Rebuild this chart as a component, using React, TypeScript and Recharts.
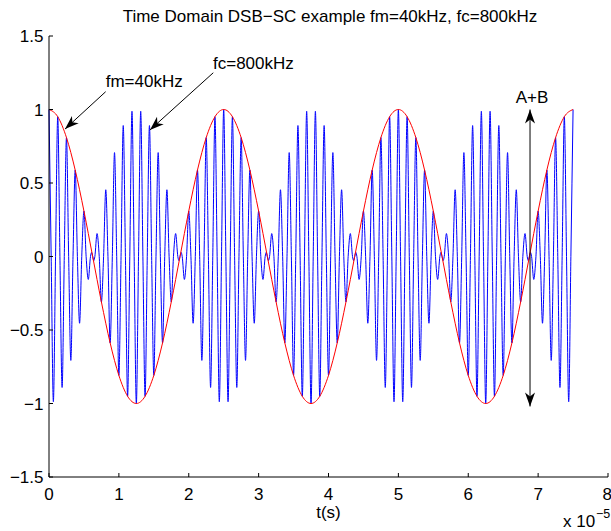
import React from 'react';
import { LineChart, Line, XAxis, YAxis, ReferenceLine, ReferenceDot } from 'recharts';

// time axis in units of 1e-5 s
const xTicks = [0, 1, 2, 3, 4, 5, 6, 7, 8];
const yTicks = [-1.5, -1, -0.5, 0, 0.5, 1, 1.5];

// DSB-SC signal: one extreme every half carrier period (0.0625 x 1e-5 s), zero between them
const halfPeriod = 0.0625;
const dsbPeaks = [
  1, -0.988, 0.951, -0.891, 0.809, -0.707, 0.588, -0.454, 0.309, -0.156,
  0, 0.156, -0.309, 0.454, -0.588, 0.707, -0.809, 0.891, -0.951, 0.988,
  -1, 0.988, -0.951, 0.891, -0.809, 0.707, -0.588, 0.454, -0.309, 0.156,
  0, -0.156, 0.309, -0.454, 0.588, -0.707, 0.809, -0.891, 0.951, -0.988,
  1, -0.988, 0.951, -0.891, 0.809, -0.707, 0.588, -0.454, 0.309, -0.156,
  0, 0.156, -0.309, 0.454, -0.588, 0.707, -0.809, 0.891, -0.951, 0.988,
  -1, 0.988, -0.951, 0.891, -0.809, 0.707, -0.588, 0.454, -0.309, 0.156,
  0, -0.156, 0.309, -0.454, 0.588, -0.707, 0.809, -0.891, 0.951, -0.988,
  1, -0.988, 0.951, -0.891, 0.809, -0.707, 0.588, -0.454, 0.309, -0.156,
  0, 0.156, -0.309, 0.454, -0.588, 0.707, -0.809, 0.891, -0.951, 0.988,
  -1, 0.988, -0.951, 0.891, -0.809, 0.707, -0.588, 0.454, -0.309, 0.156,
  0, -0.156, 0.309, -0.454, 0.588, -0.707, 0.809, -0.891, 0.951, -0.988,
  1,
];

// small wiggle of the signal around each zero of the envelope
const nullWiggles = [
  { t: 0.609, v: 0.028 }, { t: 0.641, v: -0.028 },
  { t: 1.859, v: -0.028 }, { t: 1.891, v: 0.028 },
  { t: 3.109, v: 0.028 }, { t: 3.141, v: -0.028 },
  { t: 4.359, v: -0.028 }, { t: 4.391, v: 0.028 },
  { t: 5.609, v: 0.028 }, { t: 5.641, v: -0.028 },
  { t: 6.859, v: -0.028 }, { t: 6.891, v: 0.028 },
];

// message envelope (fm=40kHz), sampled every 0.125 x 1e-5 s
const envStep = 0.125;
const envelope = [
  1, 0.951, 0.809, 0.588, 0.309, 0, -0.309, -0.588, -0.809, -0.951,
  -1, -0.951, -0.809, -0.588, -0.309, 0, 0.309, 0.588, 0.809, 0.951,
  1, 0.951, 0.809, 0.588, 0.309, 0, -0.309, -0.588, -0.809, -0.951,
  -1, -0.951, -0.809, -0.588, -0.309, 0, 0.309, 0.588, 0.809, 0.951,
  1, 0.951, 0.809, 0.588, 0.309, 0, -0.309, -0.588, -0.809, -0.951,
  -1, -0.951, -0.809, -0.588, -0.309, 0, 0.309, 0.588, 0.809, 0.951,
  1,
];

const dsbData: { t: number; v: number }[] = [...nullWiggles];
dsbPeaks.forEach((v, i) => {
  dsbData.push({ t: i * halfPeriod, v });
  if (i < dsbPeaks.length - 1) dsbData.push({ t: (i + 0.5) * halfPeriod, v: 0 });
});
dsbData.sort((a, b) => a.t - b.t);
const envData = envelope.map((v, i) => ({ t: i * envStep, v }));

// annotation arrows: [tail, tip]
const fmArrow = [{ x: 0.811, y: 1.121 }, { x: 0.229, y: 0.867 }];
const fcArrow = [{ x: 2.351, y: 1.25 }, { x: 1.445, y: 0.861 }];
const abArrow = [{ x: 6.884, y: -1.02 }, { x: 6.884, y: 1.0 }];

const FONT = '"Liberation Sans", Arial, Helvetica, sans-serif';

const head = (xt: number, yt: number, xf: number, yf: number) => {
  const a = Math.atan2(yt - yf, xt - xf);
  const L = 14, W = 5, N = 10;
  const c = Math.cos(a), s = Math.sin(a);
  const bx = xt - L * c, by = yt - L * s;
  const nx = xt - N * c, ny = yt - N * s;
  const px = -s * W, py = c * W;
  return (
    <polygon
      points={`${xt},${yt} ${bx + px},${by + py} ${nx},${ny} ${bx - px},${by - py}`}
      fill="#000"
    />
  );
};

const arrowShape = (both: boolean) => (p: any) => (
  <g>
    <line x1={p.x1} y1={p.y1} x2={p.x2} y2={p.y2} stroke="#000" strokeWidth={1} />
    {head(p.x2, p.y2, p.x1, p.y1)}
    {both && head(p.x1, p.y1, p.x2, p.y2)}
  </g>
);

const label = (text: string, anchor: string) => (p: any) => (
  <text x={p.cx} y={p.cy} fontSize={17} fontFamily={FONT} fill="#000" textAnchor={anchor}>
    {text}
  </text>
);

// x tick labels; the last one is pulled in so it stays inside the picture
const XTick = (p: any) => {
  const last = p.payload.value === xTicks[xTicks.length - 1];
  return (
    <text
      x={p.x}
      y={p.y}
      dy="0.71em"
      dx={last ? 4 : 0}
      textAnchor={last ? 'end' : 'middle'}
      fontSize={17}
      fontFamily={FONT}
      fill="#000"
    >
      {p.payload.value}
    </text>
  );
};

const minus = (v: number) => String(v).replace('-', '\u2212');

export default function App() {
  return (
    <div style={{ position: 'absolute', left: 0, top: 0, width: 611, height: 531, background: '#fff' }}>
      <LineChart width={611} height={531} margin={{ top: 36, right: 3, left: 0, bottom: 0 }}>
        <XAxis
          type="number"
          dataKey="t"
          domain={[0, 8]}
          ticks={xTicks}
          interval={0}
          tickSize={-4}
          tickMargin={15}
          height={54}
          stroke="#000"
          tick={<XTick />}
          label={{ value: 't(s)', position: 'insideBottom', offset: 13, fill: '#000', fontSize: 17, fontFamily: FONT }}
        />
        <YAxis
          type="number"
          domain={[-1.5, 1.5]}
          ticks={yTicks}
          interval={0}
          tickSize={-4}
          tickMargin={9.5}
          width={49}
          stroke="#000"
          tickFormatter={minus}
          tick={{ fill: '#000', fontSize: 17, fontFamily: FONT }}
        />
        <Line
          data={dsbData}
          dataKey="v"
          type="monotone"
          stroke="#0000ff"
          strokeWidth={1}
          dot={false}
          isAnimationActive={false}
        />
        <Line
          data={envData}
          dataKey="v"
          type="monotone"
          stroke="#ff0000"
          strokeWidth={1}
          dot={false}
          isAnimationActive={false}
        />
        <ReferenceLine segment={fmArrow} shape={arrowShape(false)} />
        <ReferenceLine segment={fcArrow} shape={arrowShape(false)} />
        <ReferenceLine segment={abArrow} shape={arrowShape(true)} />
        <ReferenceDot x={0.811} y={1.153} r={0} shape={label('fm=40kHz', 'start')} />
        <ReferenceDot x={2.347} y={1.276} r={0} shape={label('fc=800kHz', 'start')} />
        <ReferenceDot x={6.912} y={1.044} r={0} shape={label('A+B', 'middle')} />
      </LineChart>
      <svg
        width={611}
        height={531}
        style={{ position: 'absolute', left: 0, top: 0, pointerEvents: 'none' }}
      >
        <text x={330} y={22} textAnchor="middle" fontSize={17} fontFamily={FONT} fill="#000">
          Time Domain DSB{'\u2212'}SC example fm=40kHz, fc=800kHz
        </text>
        <text x={563} y={527} fontSize={17} fontFamily={FONT} fill="#000">
          x 10
        </text>
        <text x={596} y={518} fontSize={12.5} fontFamily={FONT} fill="#000">
          {'\u2212'}5
        </text>
      </svg>
    </div>
  );
}
